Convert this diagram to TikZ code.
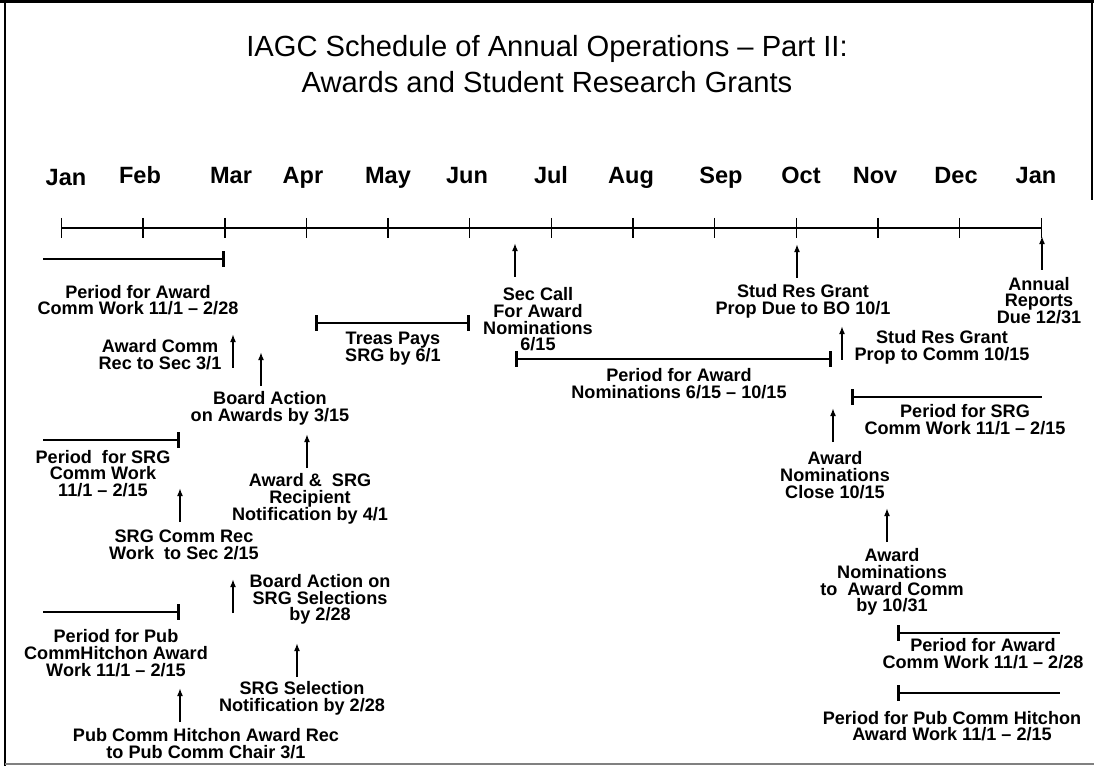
\documentclass[tikz,border=0pt]{standalone}
\usepackage{fontspec}
\setmainfont{Liberation Sans}
\usetikzlibrary{arrows.meta}
\newcommand\lblfont{\fontsize{10.3}{9.5}\selectfont\bfseries\lineskiplimit=-20pt\relax}
\newcommand\monthfont{\fontsize{13.4}{15}\selectfont\bfseries}
\newcommand\titlefont{\fontsize{16.6}{20}\selectfont}

\begin{document}
\begin{tikzpicture}[x=0.02cm, y=-0.02cm,
    lbl/.style={font=\lblfont, align=center, inner sep=0pt},
    month/.style={font=\monthfont, anchor=base, inner sep=0pt},
    uparr/.style={line width=1.25pt, -{Latex[length=4.6pt,width=3.4pt]}},
    spanbar/.style={line width=1.5pt}]
    \useasboundingbox (0,0) rectangle (1094,766);

    % frame
    \draw[line width=1.7pt] (5,0) -- (5,766);
    \draw[line width=1.2pt] (0,1.5) -- (1094,1.5);
    \draw[line width=0.8pt] (1092,0) -- (1092,200);
    \draw[gray, line width=1.2pt] (5,764) -- (1094,764);

    \node[font=\titlefont, anchor=base] (title1) at (547,56.7) {IAGC Schedule of Annual Operations – Part II:};
    \node[font=\titlefont, anchor=base] (title2) at (547,93) {Awards and Student Research Grants};

    % time line
    \foreach \m/\x/\y [count=\i from 0] in {Jan/66/185.5, Feb/140/183.5, Mar/231/183.5, Apr/303/183.5,
        May/388/183.5, Jun/467/183.5, Jul/551/183.5, Aug/631/183.5, Sep/721/183.5, Oct/801/183.5,
        Nov/875/183.5, Dec/956/183.5, Jan/1036/183.5} {
        \coordinate (t\i) at (61.5+81.65*\i, 228);
        \node[month] (m\i) at (\x,\y) {\m};
        \draw[line width=0.8pt] (t\i) ++(0,-10) -- ++(0,20);
    }
    \draw[line width=1.2pt] (t0) -- (t12);

    % periods
    \draw[spanbar, -{Bar[width=9pt]}] (43,259) -- (225,259);
    \draw[spanbar, -{Bar[width=9pt]}] (43,440) -- (180,440);
    \draw[spanbar, -{Bar[width=9pt]}] (43,612) -- (180,612);
    \draw[spanbar, {Bar[width=9pt]}-{Bar[width=9pt]}] (315,323) -- (470,323);
    \draw[spanbar, {Bar[width=9pt]}-{Bar[width=9pt]}] (515,359) -- (832,359);
    \draw[spanbar, {Bar[width=9pt]}-] (851,397) -- (1042,397);
    \draw[spanbar, {Bar[width=9pt]}-] (897,633) -- (1060,633);
    \draw[spanbar, {Bar[width=9pt]}-] (897,693) -- (1060,693);

    % left side
    \node[lbl] (awdwork) at (138,300) {Period for Award\\Comm Work 11/1 – 2/28};
    \node[lbl] (awdrec) at (160,354.5) {Award Comm\\Rec to Sec 3/1};
    \node[lbl] (boardawd) at (270,408.5) {Board Action\\on Awards by 3/15};
    \node[lbl] (srgwork) at (103,473.5) {Period~ for SRG\\Comm Work\\11/1 – 2/15};
    \node[lbl] (srgrec) at (184,545) {SRG Comm Rec\\Work~ to Sec 2/15};
    \node[lbl] (notify) at (310,499) {Award \&~ SRG\\Recipient\\Notification by 4/1};
    \node[lbl] (boardsrg) at (320,599.5) {Board Action on\\SRG Selections\\by 2/28};
    \node[lbl] (srgsel) at (302,698.5) {SRG Selection\\Notification by 2/28};
    \node[lbl] (pubwork) at (116,653) {Period for Pub\\CommHitchon Award\\Work 11/1 – 2/15};
    \node[lbl] (pubrec) at (206,743.5) {Pub Comm Hitchon Award Rec\\to Pub Comm Chair 3/1};

    % middle and right side
    \node[lbl] (treas) at (393,348.5) {Treas Pays\\SRG by 6/1};
    \node[lbl] (seccall) at (538,319.5) {Sec Call\\For Award\\Nominations\\6/15};
    \node[lbl] (nomper) at (679,383.5) {Period for Award\\Nominations 6/15 – 10/15};
    \node[lbl] (propbo) at (803,301.5) {Stud Res Grant\\Prop Due to BO 10/1};
    \node[lbl] (annual) at (1039,300.5) {Annual\\Reports\\Due 12/31};
    \node[lbl] (propcomm) at (942,347) {Stud Res Grant\\Prop to Comm 10/15};
    \node[lbl] (srgwork2) at (965,419.5) {Period for SRG\\Comm Work 11/1 – 2/15};
    \node[lbl] (nomclose) at (835,475) {Award\\Nominations\\Close 10/15};
    \node[lbl] (nomcomm) at (892,582) {Award\\Nominations\\to~ Award Comm\\by 10/31};
    \node[lbl] (awdwork2) at (983,653.5) {Period for Award\\Comm Work 11/1 – 2/28};
    \node[lbl] (pubwork2) at (952,726) {Period for Pub Comm Hitchon\\Award Work 11/1 – 2/15};

    % arrows
    \coordinate (a1) at (233,368);
    \coordinate (a2) at (261,386);
    \coordinate (a3) at (180,522);
    \coordinate (a4) at (307,468);
    \coordinate (a5) at (233,613);
    \coordinate (a6) at (297,677);
    \coordinate (a7) at (180,722);
    \coordinate (a8) at (515,277);
    \coordinate (a9) at (797,278);
    \coordinate (a10) at (1042,270);
    \coordinate (a11) at (842,360);
    \coordinate (a12) at (833,442);
    \coordinate (a13) at (887,542);
    \foreach \a in {1,...,13}
        \draw[uparr] (a\a) -- ++(0,-34);
\end{tikzpicture}
\end{document}
